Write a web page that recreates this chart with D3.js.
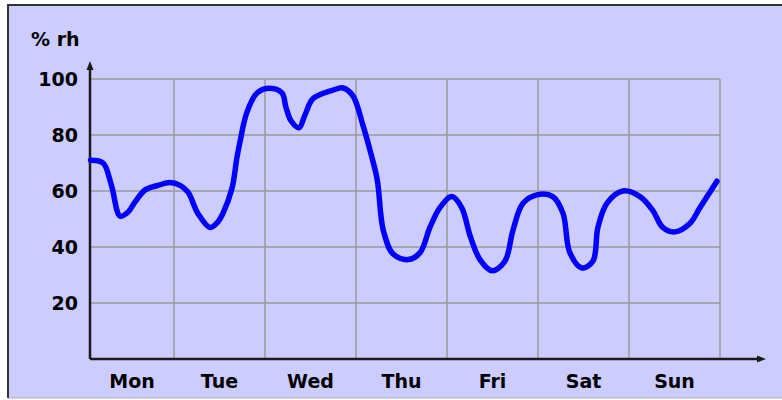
<!DOCTYPE html>
<html>
<head>
<meta charset="utf-8">
<script src="https://cdn.jsdelivr.net/npm/d3@7"></script>
<style>
    body { margin: 0; background: #fff; }
    #chart-area svg { display: block; }
</style>
</head>
<body>
<div id="chart-area"></div>
<script>

// Day labels, one per column
const dayLabels = ["Mon", "Tue", "Wed", "Thu", "Fri", "Sat", "Sun"];

// y-axis tick values
const yTicks = [20, 40, 60, 80, 100];

// Hours since Monday 00:00
const hours = [2, 5.3, 7.5, 9.8, 11.9, 13.7, 16.4, 19.8, 22.9,
    25.6, 27.7, 30.3, 33.5, 35.6, 36.9, 39.3, 40.6, 41.4, 43.2,
    45.9, 49.3, 52.5, 53.5, 54.9, 57.0, 58.5, 60.7, 65.9, 68.6,
    71.2, 73.8, 76.0, 77.6, 79.2, 81.8, 85.7, 88.9, 91.5,
    94.1, 97.3, 99.9, 102.1, 104.7, 107.9, 111.3, 113.4, 116.0, 119.7,
    123.9, 126.6, 128.4, 131.6, 134.5, 135.8, 138.2, 142.4, 146.9, 150.3,
    152.9, 156.1, 160.1, 162.7, 167.2];

// Relative humidity (%)
const humidity = [71, 70, 62, 51, 52.5, 56, 60.4, 62, 63,
    62, 59.6, 52, 47, 49, 52, 61, 72, 77.5, 88,
    95, 96.7, 95, 90, 85, 82.6, 87, 93, 96, 96.8,
    94, 83.6, 73, 64, 46, 37.5, 35.5, 38, 47,
    54, 58, 54, 44, 35.5, 31.5, 35, 46, 55.5, 58.6,
    58, 52, 38, 32.5, 35, 47, 55.7, 60, 58, 53,
    47, 45.4, 48.5, 54, 63.5];

class HumidityChart {
    constructor(_parentElement) {
        this.parentElement = _parentElement;
        this.data = hours.map((h, i) => ({ hour: h, value: humidity[i] }));
        this.initVis();
    }

    initVis() {
        let vis = this;

        vis.width = 782;
        vis.height = 400;

        vis.svg = d3.select("#" + vis.parentElement).append("svg")
            .attr("width", vis.width)
            .attr("height", vis.height);

        // Panel with a dark top/left edge
        vis.svg.append("rect")
            .attr("x", 8).attr("y", 5)
            .attr("width", vis.width).attr("height", 393)
            .style("fill", "#ccccff");
        vis.svg.append("line")
            .attr("x1", 8).attr("x2", vis.width).attr("y1", 398).attr("y2", 398)
            .style("stroke", "#b0b0c8").style("stroke-width", 1);
        vis.svg.append("path")
            .attr("d", `M8,398V5H${vis.width}`)
            .style("fill", "none")
            .style("stroke", "#333")
            .style("stroke-width", 2);

        // x-scale: hours, one grid column per day
        vis.xScale = d3.scaleLinear()
            .domain([0, 168])
            .range([83, 720]);
        vis.x0 = 90;

        // y-scale
        vis.yScale = d3.scaleLinear()
            .domain([0, 100])
            .range([359, 79]);

        const plotRight = vis.xScale(168);

        // Horizontal grid
        vis.svg.append("g").selectAll("line")
            .data(yTicks)
            .enter().append("line")
            .attr("x1", vis.x0).attr("x2", plotRight)
            .attr("y1", d => vis.yScale(d)).attr("y2", d => vis.yScale(d))
            .style("stroke", "#9a9a9a").style("stroke-width", 1.5);

        // Vertical grid at day boundaries
        vis.svg.append("g").selectAll("line")
            .data(d3.range(1, 8))
            .enter().append("line")
            .attr("x1", d => vis.xScale(d * 24)).attr("x2", d => vis.xScale(d * 24))
            .attr("y1", vis.yScale(100)).attr("y2", vis.yScale(0))
            .style("stroke", "#9a9a9a").style("stroke-width", 1.5);

        // Axes with arrow heads
        vis.svg.append("path")
            .attr("d", `M${vis.x0},${vis.yScale(0)}V66M${vis.x0},${vis.yScale(0)}H760`)
            .style("fill", "none")
            .style("stroke", "#1a1a1a")
            .style("stroke-width", 2.5);
        vis.svg.append("path")
            .attr("d", `M${vis.x0},61L${vis.x0 - 3.5},70L${vis.x0 + 3.5},70Z`)
            .style("fill", "#1a1a1a");
        vis.svg.append("path")
            .attr("d", `M766,${vis.yScale(0)}L757,${vis.yScale(0) - 3.5}L757,${vis.yScale(0) + 3.5}Z`)
            .style("fill", "#1a1a1a");

        // y tick labels
        vis.svg.append("g").selectAll("text")
            .data(yTicks)
            .enter().append("text")
            .attr("x", 78)
            .attr("y", d => vis.yScale(d))
            .attr("dy", "0.38em")
            .attr("text-anchor", "end")
            .attr("class", "lbl")
            .text(d => d);

        // Day labels centred in their columns
        vis.svg.append("g").selectAll("text")
            .data(dayLabels)
            .enter().append("text")
            .attr("x", (d, i) => (Math.max(vis.x0, vis.xScale(i * 24)) + vis.xScale((i + 1) * 24)) / 2)
            .attr("y", 388)
            .attr("text-anchor", "middle")
            .attr("class", "lbl")
            .text(d => d);

        // Unit label
        vis.svg.append("text")
            .attr("x", 31)
            .attr("y", 46)
            .attr("class", "lbl")
            .text("% rh");

        vis.svg.selectAll(".lbl")
            .style("font-family", "'DejaVu Sans', Verdana, sans-serif")
            .style("font-weight", "bold")
            .style("font-size", "19px")
            .style("fill", "#000");

        // Line generator
        vis.lineGen = d3.line()
            .x(d => vis.xScale(d.hour))
            .y(d => vis.yScale(d.value))
            .curve(d3.curveCatmullRom.alpha(0.5));

        vis.svg.append("path")
            .datum(vis.data)
            .attr("d", vis.lineGen)
            .style("fill", "none")
            .style("stroke", "#0000ff")
            .style("stroke-width", 5.5)
            .style("stroke-linecap", "round")
            .style("stroke-linejoin", "round");
    }
}

new HumidityChart("chart-area");
</script>
</body>
</html>
